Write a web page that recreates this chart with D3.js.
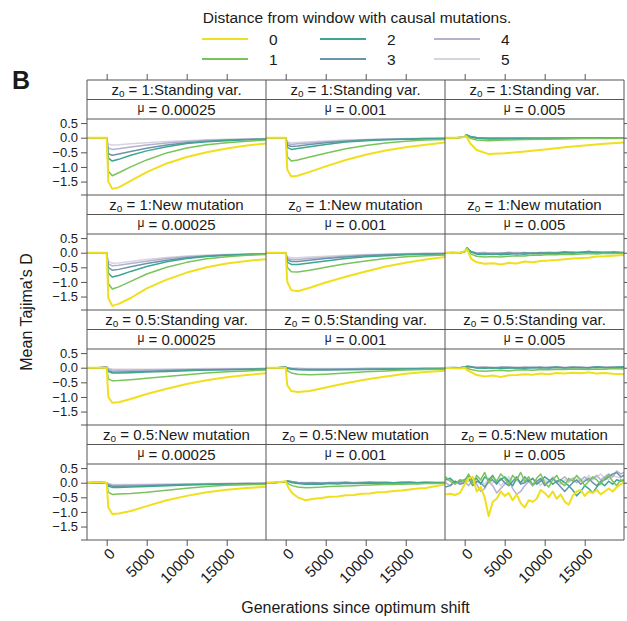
<!DOCTYPE html>
<html><head><meta charset="utf-8">
<script src="https://cdn.jsdelivr.net/npm/d3@7"></script>
<style>
body{margin:0;background:#fff}
svg{display:block}
text{font-family:"Liberation Sans",Arial,sans-serif;fill:#1a1a1a}
</style>
</head><body>
<svg id="c" width="627" height="621"></svg>
<script>
// ---------- DATA ----------
const distances = ["0","1","2","3","4","5"];
const colors = ["#f0df1c","#78c45a","#3ea58e","#6b94ab","#b4b0cf","#d8d4de"];
const rowTitles = ["1:Standing var.","1:New mutation","0.5:Standing var.","0.5:New mutation"];
const muLabels = ["0.00025","0.001","0.005"];
const xTicks = [0,5000,10000,15000];
const yTicks = [0.5,0,-0.5,-1,-1.5];

// generation grids
const gensA = [-2460,-1000,0,200,700,1500,3000,5000,7500,10000,12500,15000,17500,19910];
const gensB = [-2460,-1500,-500,0,300,800,1500,2500,3500,4500,5500,6500,7500,8500,9500,10500,11500,12500,13500,14500,15500,16500,17500,18500,19910];
const gensC = [-2400,-1800,-1200,-600,0,500,1000,1500,2000,2500,3000,3500,4000,4500,5000,5500,6000,6500,7000,7500,8000,8500,9000,9500,10000,10500,11000,11500,12000,12500,13000,13500,14000,14500,15000,15500,16000,16500,17000,17500,18000,18500,19000,19500,19900];

// z0 = 1 : Standing var.
const sv1_mu1 = [
 [0,0,0,-1.5,-1.75,-1.7,-1.48,-1.18,-0.88,-0.66,-0.5,-0.37,-0.27,-0.2],
 [0,0,0,-1.15,-1.3,-1.2,-1.0,-0.76,-0.52,-0.35,-0.24,-0.17,-0.12,-0.08],
 [0,0,0,-0.7,-0.8,-0.74,-0.6,-0.45,-0.31,-0.2,-0.14,-0.1,-0.07,-0.05],
 [0,0,0,-0.55,-0.6,-0.56,-0.47,-0.36,-0.25,-0.17,-0.12,-0.08,-0.06,-0.05],
 [0,0,0,-0.36,-0.4,-0.38,-0.32,-0.25,-0.18,-0.13,-0.09,-0.07,-0.05,-0.04],
 [0,0,0,-0.22,-0.25,-0.24,-0.21,-0.17,-0.13,-0.1,-0.07,-0.05,-0.04,-0.03]];
const sv1_mu2 = [
 [0,0,0,-1.1,-1.33,-1.3,-1.17,-0.98,-0.76,-0.58,-0.44,-0.33,-0.24,-0.16],
 [0,0,0,-0.65,-0.8,-0.76,-0.66,-0.53,-0.38,-0.27,-0.18,-0.12,-0.08,-0.06],
 [0,0,0,-0.33,-0.4,-0.37,-0.31,-0.23,-0.15,-0.1,-0.07,-0.05,-0.04,-0.03],
 [0,0,0,-0.25,-0.3,-0.28,-0.23,-0.17,-0.12,-0.08,-0.06,-0.04,-0.03,-0.03],
 [0,0,0,-0.19,-0.23,-0.21,-0.18,-0.14,-0.1,-0.07,-0.05,-0.04,-0.03,-0.02],
 [0,0,0,-0.14,-0.17,-0.16,-0.14,-0.11,-0.08,-0.06,-0.04,-0.03,-0.02,-0.02]];
const sv1_mu3 = [
 [0,0,0.02,0.05,-0.2,-0.42,-0.56,-0.53,-0.47,-0.4,-0.33,-0.27,-0.21,-0.16],
 [0,0,0.02,0.08,-0.02,-0.08,-0.1,-0.08,-0.06,-0.05,-0.04,-0.03,-0.03,-0.02],
 [0,0,0.02,0.1,0.03,-0.02,-0.04,-0.04,-0.03,-0.03,-0.02,-0.02,-0.02,-0.02],
 [0,0,0.02,0.1,0.04,0.0,-0.02,-0.02,-0.02,-0.02,-0.02,-0.01,-0.01,-0.01],
 [0,0,0.02,0.09,0.04,0.01,-0.01,-0.01,-0.01,-0.01,-0.01,-0.01,-0.01,-0.01],
 [0,0,0.02,0.08,0.04,0.01,0,0,0,0,0,0,0,0]];

// z0 = 1 : New mutation
const nm1_mu1 = [
 [0,0,0,-1.55,-1.82,-1.75,-1.55,-1.22,-0.92,-0.68,-0.5,-0.37,-0.28,-0.22],
 [0,0,0,-1.05,-1.24,-1.17,-0.98,-0.73,-0.5,-0.33,-0.21,-0.14,-0.09,-0.06],
 [0,0,0,-0.7,-0.83,-0.78,-0.64,-0.47,-0.31,-0.2,-0.13,-0.09,-0.06,-0.05],
 [0,0,0,-0.5,-0.6,-0.57,-0.48,-0.37,-0.26,-0.17,-0.11,-0.08,-0.06,-0.05],
 [0,0,0,-0.38,-0.45,-0.43,-0.37,-0.29,-0.2,-0.14,-0.1,-0.07,-0.05,-0.04],
 [0,0,0,-0.3,-0.36,-0.35,-0.3,-0.23,-0.16,-0.11,-0.08,-0.06,-0.04,-0.03]];
const nm1_mu2 = [
 [0,0,0,-1.0,-1.28,-1.32,-1.2,-1.02,-0.82,-0.64,-0.47,-0.34,-0.23,-0.15],
 [0,0,0,-0.5,-0.65,-0.66,-0.6,-0.5,-0.38,-0.28,-0.2,-0.14,-0.1,-0.08],
 [0,0,0,-0.32,-0.4,-0.4,-0.35,-0.28,-0.2,-0.14,-0.1,-0.07,-0.05,-0.04],
 [0,0,0,-0.24,-0.3,-0.3,-0.26,-0.2,-0.15,-0.1,-0.07,-0.05,-0.04,-0.03],
 [0,0,0,-0.19,-0.23,-0.23,-0.2,-0.16,-0.12,-0.08,-0.06,-0.04,-0.03,-0.03],
 [0,0,0,-0.14,-0.17,-0.17,-0.15,-0.12,-0.09,-0.06,-0.05,-0.03,-0.02,-0.02]];
const nm1_mu3 = [
 [0,-0.02,0.01,0.05,0.12,-0.2,-0.33,-0.38,-0.36,-0.4,-0.35,-0.37,-0.3,-0.33,-0.28,-0.27,-0.25,-0.22,-0.2,-0.18,-0.17,-0.13,-0.12,-0.1,-0.08],
 [0,0,0.01,0.05,0.15,-0.05,-0.12,-0.15,-0.13,-0.15,-0.12,-0.1,-0.11,-0.08,-0.09,-0.06,-0.07,-0.05,-0.06,-0.04,-0.03,-0.04,-0.02,-0.03,-0.02],
 [0,0.01,0,0.04,0.17,0.02,-0.05,-0.06,-0.04,-0.07,-0.05,-0.03,-0.05,-0.02,-0.04,-0.01,-0.03,0.0,-0.02,0.02,-0.01,0.01,0.0,0.02,0.0],
 [0,0,0.01,0.04,0.15,0.03,-0.03,-0.02,-0.05,-0.03,-0.01,-0.04,0.0,-0.02,0.01,-0.02,0.0,0.03,0.0,0.01,0.05,0.0,0.02,0.01,0.0],
 [0,0,0,0.03,0.12,0.04,-0.01,-0.03,0.0,-0.02,0.02,-0.01,0.01,-0.03,0.0,0.02,-0.01,0.01,0.03,0.0,0.02,0.04,0.0,0.02,0.01],
 [0,0.01,0,0.03,0.1,0.03,0.0,0.02,-0.02,0.01,-0.01,0.02,0.0,0.01,-0.02,0.01,0.02,0.0,0.01,0.03,0.0,0.02,0.01,0.0,0.01]];

// z0 = 0.5 : Standing var.
const sv05_mu1 = [
 [0,0,0,-1.0,-1.2,-1.18,-1.07,-0.9,-0.72,-0.56,-0.43,-0.33,-0.25,-0.19],
 [0,0,0,-0.38,-0.45,-0.44,-0.41,-0.36,-0.3,-0.24,-0.18,-0.14,-0.11,-0.08],
 [0,0,0,-0.13,-0.18,-0.18,-0.17,-0.15,-0.13,-0.1,-0.08,-0.07,-0.06,-0.05],
 [0,0,0.02,-0.1,-0.14,-0.15,-0.14,-0.12,-0.1,-0.08,-0.07,-0.06,-0.05,-0.04],
 [0,0,0.03,-0.05,-0.08,-0.09,-0.09,-0.08,-0.07,-0.06,-0.05,-0.04,-0.04,-0.03],
 [0,0,0.03,-0.02,-0.04,-0.05,-0.05,-0.05,-0.04,-0.04,-0.03,-0.03,-0.03,-0.02]];
const sv05_mu2 = [
 [0,0,0,-0.6,-0.8,-0.83,-0.8,-0.68,-0.53,-0.4,-0.3,-0.21,-0.15,-0.1],
 [0,0,0,-0.1,-0.18,-0.22,-0.24,-0.22,-0.18,-0.14,-0.11,-0.08,-0.06,-0.05],
 [0,0,0.02,-0.02,-0.05,-0.07,-0.08,-0.08,-0.07,-0.06,-0.05,-0.04,-0.04,-0.03],
 [0,0,0.02,-0.01,-0.03,-0.05,-0.06,-0.06,-0.05,-0.05,-0.04,-0.04,-0.03,-0.03],
 [0,0,0.02,0.0,-0.02,-0.03,-0.04,-0.04,-0.04,-0.03,-0.03,-0.03,-0.02,-0.02],
 [0,0,0.02,0.0,-0.01,-0.02,-0.03,-0.03,-0.03,-0.02,-0.02,-0.02,-0.02,-0.02]];
const sv05_mu3 = [
 [0,-0.02,-0.03,0.0,-0.08,-0.15,-0.25,-0.3,-0.27,-0.32,-0.26,-0.25,-0.22,-0.24,-0.2,-0.22,-0.18,-0.2,-0.17,-0.19,-0.16,-0.2,-0.18,-0.21,-0.22],
 [0,0,-0.02,0.0,-0.03,-0.06,-0.1,-0.12,-0.1,-0.09,-0.11,-0.08,-0.07,-0.09,-0.06,-0.07,-0.05,-0.06,-0.04,-0.05,-0.06,-0.04,-0.05,-0.03,-0.04],
 [0,0.01,0,0.02,0.04,0.02,-0.01,-0.02,0.0,-0.03,-0.01,0.0,-0.02,0.01,-0.01,0.0,0.02,-0.01,0.0,0.01,-0.01,0.02,0.0,0.01,0.02],
 [0,0,0.01,0.02,0.05,0.03,0.0,0.01,-0.01,0.02,0.0,-0.01,0.01,0.0,0.02,-0.01,0.01,0.0,0.02,0.0,0.01,0.03,0.01,0.0,0.03],
 [0,0,0.01,0.02,0.05,0.04,0.01,0.02,0.0,0.01,0.03,0.0,0.02,0.01,0.0,0.02,0.03,0.01,0.0,0.02,0.01,0.0,0.02,0.03,0.01],
 [0,0.01,0,0.02,0.04,0.03,0.02,0.01,0.02,0.0,0.01,0.02,0.0,0.02,0.01,0.0,0.02,0.01,0.03,0.01,0.0,0.02,0.01,0.02,0.0]];

// z0 = 0.5 : New mutation
const nm05_mu1 = [
 [0,0.02,0,-0.85,-1.07,-1.05,-0.97,-0.8,-0.6,-0.45,-0.33,-0.24,-0.18,-0.14],
 [0,0.02,0,-0.32,-0.4,-0.39,-0.37,-0.33,-0.26,-0.19,-0.13,-0.09,-0.07,-0.05],
 [0,0.01,0,-0.12,-0.16,-0.16,-0.15,-0.13,-0.1,-0.08,-0.06,-0.05,-0.04,-0.03],
 [0,0.01,0,-0.08,-0.12,-0.12,-0.11,-0.1,-0.08,-0.06,-0.05,-0.04,-0.03,-0.03],
 [0,0.01,0,-0.05,-0.08,-0.09,-0.08,-0.07,-0.06,-0.05,-0.04,-0.03,-0.03,-0.02],
 [0,0.01,0,-0.03,-0.05,-0.06,-0.06,-0.05,-0.05,-0.04,-0.03,-0.03,-0.02,-0.02]];
const nm05_mu2 = [
 [0,0.01,0.03,0.05,-0.15,-0.35,-0.5,-0.6,-0.55,-0.52,-0.48,-0.47,-0.43,-0.42,-0.38,-0.37,-0.33,-0.32,-0.28,-0.27,-0.23,-0.2,-0.18,-0.13,-0.06],
 [0,0,0.02,0.04,-0.03,-0.1,-0.15,-0.17,-0.16,-0.15,-0.13,-0.12,-0.11,-0.1,-0.09,-0.08,-0.07,-0.06,-0.06,-0.05,-0.04,-0.04,-0.03,-0.03,-0.02],
 [0,0,0.02,0.04,0.05,0.0,-0.03,-0.05,-0.04,-0.05,-0.03,-0.04,-0.02,-0.03,-0.02,-0.01,-0.02,0.0,-0.01,0.0,-0.01,0.0,0.0,0.01,0.0],
 [0,0.01,0.02,0.04,0.06,0.03,0.0,-0.02,-0.01,-0.02,0.0,-0.01,0.01,-0.01,0.0,0.02,0.0,0.01,0.0,0.01,0.02,0.0,0.01,0.0,0.01],
 [0,0,0.02,0.03,0.05,0.03,0.01,0.0,0.01,-0.01,0.01,0.0,0.02,0.0,0.01,0.0,0.02,0.01,0.0,0.02,0.01,0.0,0.02,0.01,0.01],
 [0,0.01,0.01,0.03,0.04,0.03,0.01,0.01,0.0,0.01,0.0,0.02,0.0,0.01,0.02,0.0,0.01,0.02,0.0,0.01,0.0,0.01,0.02,0.0,0.01]];
const nm05_mu3 = [
 [-0.4,-0.38,-0.42,-0.35,-0.05,0.15,0.2,-0.3,-0.15,-0.5,-1.15,-0.65,-0.55,-0.3,-0.45,-0.35,-0.6,-0.4,-0.7,-0.85,-0.6,-0.65,-0.55,-0.25,-0.35,-0.5,-0.3,-0.55,-0.4,-0.65,-0.75,-0.45,-0.3,-0.25,-0.45,-0.3,-0.35,-0.25,-0.4,-0.3,-0.2,-0.3,-0.15,-0.05,0.0],
 [0.2,0.05,-0.05,0.1,0.05,0.3,-0.05,0.25,0.1,0.35,0.0,0.2,0.05,0.3,0.15,-0.05,0.25,0.1,0.35,0.05,0.2,-0.1,0.15,0.3,0.0,-0.15,0.1,0.25,0.0,-0.1,0.15,0.05,0.25,0.1,-0.1,0.05,0.2,0.1,-0.05,0.15,0.25,0.05,-0.1,0.1,0.05],
 [0.1,0.15,0.0,0.05,0.1,0.25,0.05,0.15,-0.05,0.2,0.1,0.25,0.0,0.1,0.2,0.05,-0.1,0.15,0.0,0.2,0.05,0.15,-0.05,0.05,0.2,0.1,-0.05,0.05,0.1,0.0,-0.1,-0.25,-0.45,-0.3,-0.1,-0.2,-0.35,-0.15,0.0,-0.1,0.05,-0.05,0.1,0.05,0.1],
 [-0.15,-0.1,0.05,-0.05,0.0,0.15,-0.1,0.05,0.0,-0.15,0.05,0.1,-0.05,0.15,0.0,-0.1,0.05,0.2,-0.05,0.0,0.1,-0.05,0.05,0.15,-0.1,0.05,0.15,0.0,-0.15,-0.3,-0.15,0.0,0.1,-0.05,0.05,0.15,0.0,-0.1,0.05,0.1,0.2,0.3,0.35,0.2,0.25],
 [0.0,-0.1,0.05,0.0,0.05,-0.1,0.1,-0.05,-0.3,-0.2,0.05,-0.1,-0.35,-0.2,-0.05,0.1,-0.2,-0.4,-0.3,-0.1,0.05,-0.1,0.0,0.1,-0.05,0.05,0.15,0.0,0.1,0.2,0.05,0.15,0.0,0.1,0.2,0.05,0.15,0.25,0.1,0.2,0.3,0.2,0.4,0.3,0.35],
 [0.05,0.1,-0.05,0.1,0.0,0.05,0.2,0.0,0.1,-0.05,0.15,0.0,0.1,-0.1,0.05,0.2,0.0,0.1,-0.05,0.1,0.0,0.15,0.05,-0.1,0.1,0.0,0.2,0.05,-0.05,0.1,0.0,0.15,0.2,0.05,0.1,0.25,0.1,0.2,0.3,0.15,0.1,0.25,0.2,0.15,0.3]];

const panelRows = [
  [[gensA,sv1_mu1],[gensA,sv1_mu2],[gensA,sv1_mu3]],
  [[gensA,nm1_mu1],[gensA,nm1_mu2],[gensB,nm1_mu3]],
  [[gensA,sv05_mu1],[gensA,sv05_mu2],[gensB,sv05_mu3]],
  [[gensA,nm05_mu1],[gensB,nm05_mu2],[gensC,nm05_mu3]]
];

// ---------- LAYOUT ----------
const svg = d3.select("#c");
const gridL = 87, colW = 179, rowTop = [80,195,310,425], stripH = 19.5, plotH = 76;
const gridR = gridL + 3*colW, gridB = rowTop[3] + 2*stripH + plotH;
const xDomain = [-2460, 19910], yDomain = [-1.96, 0.64];
const frame = "#555";
const fmt = d3.format(".1f");
const FONT = '"Liberation Sans",Arial,sans-serif';

const defs = svg.append("defs");

for (let r = 0; r < 4; r++) {
  const pTop = rowTop[r] + 2*stripH, pBot = pTop + plotH;
  const y = d3.scaleLinear().domain(yDomain).range([pBot, pTop]);
  for (let c = 0; c < 3; c++) {
    const x0 = gridL + c*colW;
    const x = d3.scaleLinear().domain(xDomain).range([x0, x0 + colW]);
    const id = `clip${r}${c}`;
    defs.append("clipPath").attr("id", id).append("rect")
      .attr("x", x0).attr("y", pTop).attr("width", colW).attr("height", plotH);
    const [gens, series] = panelRows[r][c];
    const line = d3.line().x((d,i) => x(gens[i])).y(d => y(d));
    const g = svg.append("g").attr("clip-path", `url(#${id})`);
    for (let k = 5; k >= 0; k--) {
      g.append("path").datum(series[k])
        .attr("d", line).attr("fill", "none")
        .attr("stroke", colors[k])
        .attr("stroke-width", k === 0 ? 2 : 1.5)
        .attr("stroke-linejoin", "round");
    }
    // strip texts
    const cx = x0 + colW/2;
    const t1 = svg.append("text").attr("x", cx).attr("y", rowTop[r] + 15)
      .attr("text-anchor", "middle").style("font-size", "15px");
    t1.append("tspan").text("z");
    t1.append("tspan").text("o").style("font-size", "10px").attr("dy", 2);
    t1.append("tspan").text(" = " + rowTitles[r]).attr("dy", -2);
    const t2 = svg.append("text").attr("x", cx).attr("y", rowTop[r] + stripH + 15)
      .attr("text-anchor", "middle").style("font-size", "15px");
    t2.append("tspan").text("μ").style("font-size", "12px").attr("dy", -3);
    t2.append("tspan").text(" = " + muLabels[c]).attr("dy", 3);

    // axes
    if (c === 0) {
      const ax = svg.append("g").attr("transform", `translate(${gridL},0)`)
        .call(d3.axisLeft(y).tickValues(yTicks).tickSize(6).tickPadding(3).tickFormat(fmt));
      ax.select(".domain").remove();
      ax.selectAll("line").attr("stroke", frame);
      ax.selectAll("text").style("font-size", "13px").style("font-family", FONT).attr("fill", "#1a1a1a");
      svg.append("line").attr("x1", gridL - 6).attr("x2", gridL).attr("y1", pBot).attr("y2", pBot).attr("stroke", frame);
    }
    if (c === 2) {
      const ax = svg.append("g").attr("transform", `translate(${gridR},0)`)
        .call(d3.axisRight(y).tickValues(yTicks).tickSize(6).tickFormat(""));
      ax.select(".domain").remove();
      ax.selectAll("line").attr("stroke", frame);
    }
    if (r === 0) {
      const ax = svg.append("g").attr("transform", `translate(0,${rowTop[0]})`)
        .call(d3.axisTop(x).tickValues(xTicks).tickSize(6).tickFormat(""));
      ax.select(".domain").remove();
      ax.selectAll("line").attr("stroke", frame);
    }
    if (r === 3) {
      const ax = svg.append("g").attr("transform", `translate(0,${pBot})`)
        .call(d3.axisBottom(x).tickValues(xTicks).tickSize(6).tickFormat(""));
      ax.select(".domain").remove();
      ax.selectAll("line").attr("stroke", frame);
      ax.selectAll(".tick").append("text")
        .attr("transform", "translate(5,11) rotate(-45)")
        .attr("text-anchor", "end").attr("dy", "0.35em")
        .style("font-size", "15px").style("font-family", FONT)
        .attr("fill", "#1a1a1a")
        .text(d => d);
    }
  }
}

// frame lines
for (let c = 0; c <= 3; c++) {
  svg.append("line").attr("x1", gridL + c*colW).attr("x2", gridL + c*colW)
    .attr("y1", rowTop[0]).attr("y2", gridB).attr("stroke", frame).attr("stroke-width", 1);
}
const hLines = [];
rowTop.forEach(t => { hLines.push(t, t + stripH, t + 2*stripH); });
hLines.push(gridB);
hLines.forEach(yv => svg.append("line").attr("x1", gridL).attr("x2", gridR)
  .attr("y1", yv).attr("y2", yv).attr("stroke", frame).attr("stroke-width", 1));

// labels
svg.append("text").attr("x", 12).attr("y", 89).text("B")
  .style("font-size", "25px").style("font-weight", "bold");
svg.append("text").attr("transform", "translate(32,312) rotate(-90)")
  .attr("text-anchor", "middle").style("font-size", "16px").text("Mean Tajima's D");
svg.append("text").attr("x", (gridL + gridR)/2).attr("y", 613)
  .attr("text-anchor", "middle").style("font-size", "16px").text("Generations since optimum shift");

// legend
svg.append("text").attr("x", 357).attr("y", 23).attr("text-anchor", "middle")
  .style("font-size", "15.5px").text("Distance from window with causal mutations.");
const legX = [202, 320, 434], legY = [39, 59];
distances.forEach((d, i) => {
  const cx = legX[Math.floor(i/2)], cy = legY[i % 2];
  svg.append("line").attr("x1", cx).attr("x2", cx + 46).attr("y1", cy).attr("y2", cy)
    .attr("stroke", colors[i]).attr("stroke-width", 2);
  svg.append("text").attr("x", cx + 67).attr("y", cy + 5.5).style("font-size", "15.5px").text(d);
});
</script>
</body></html>
